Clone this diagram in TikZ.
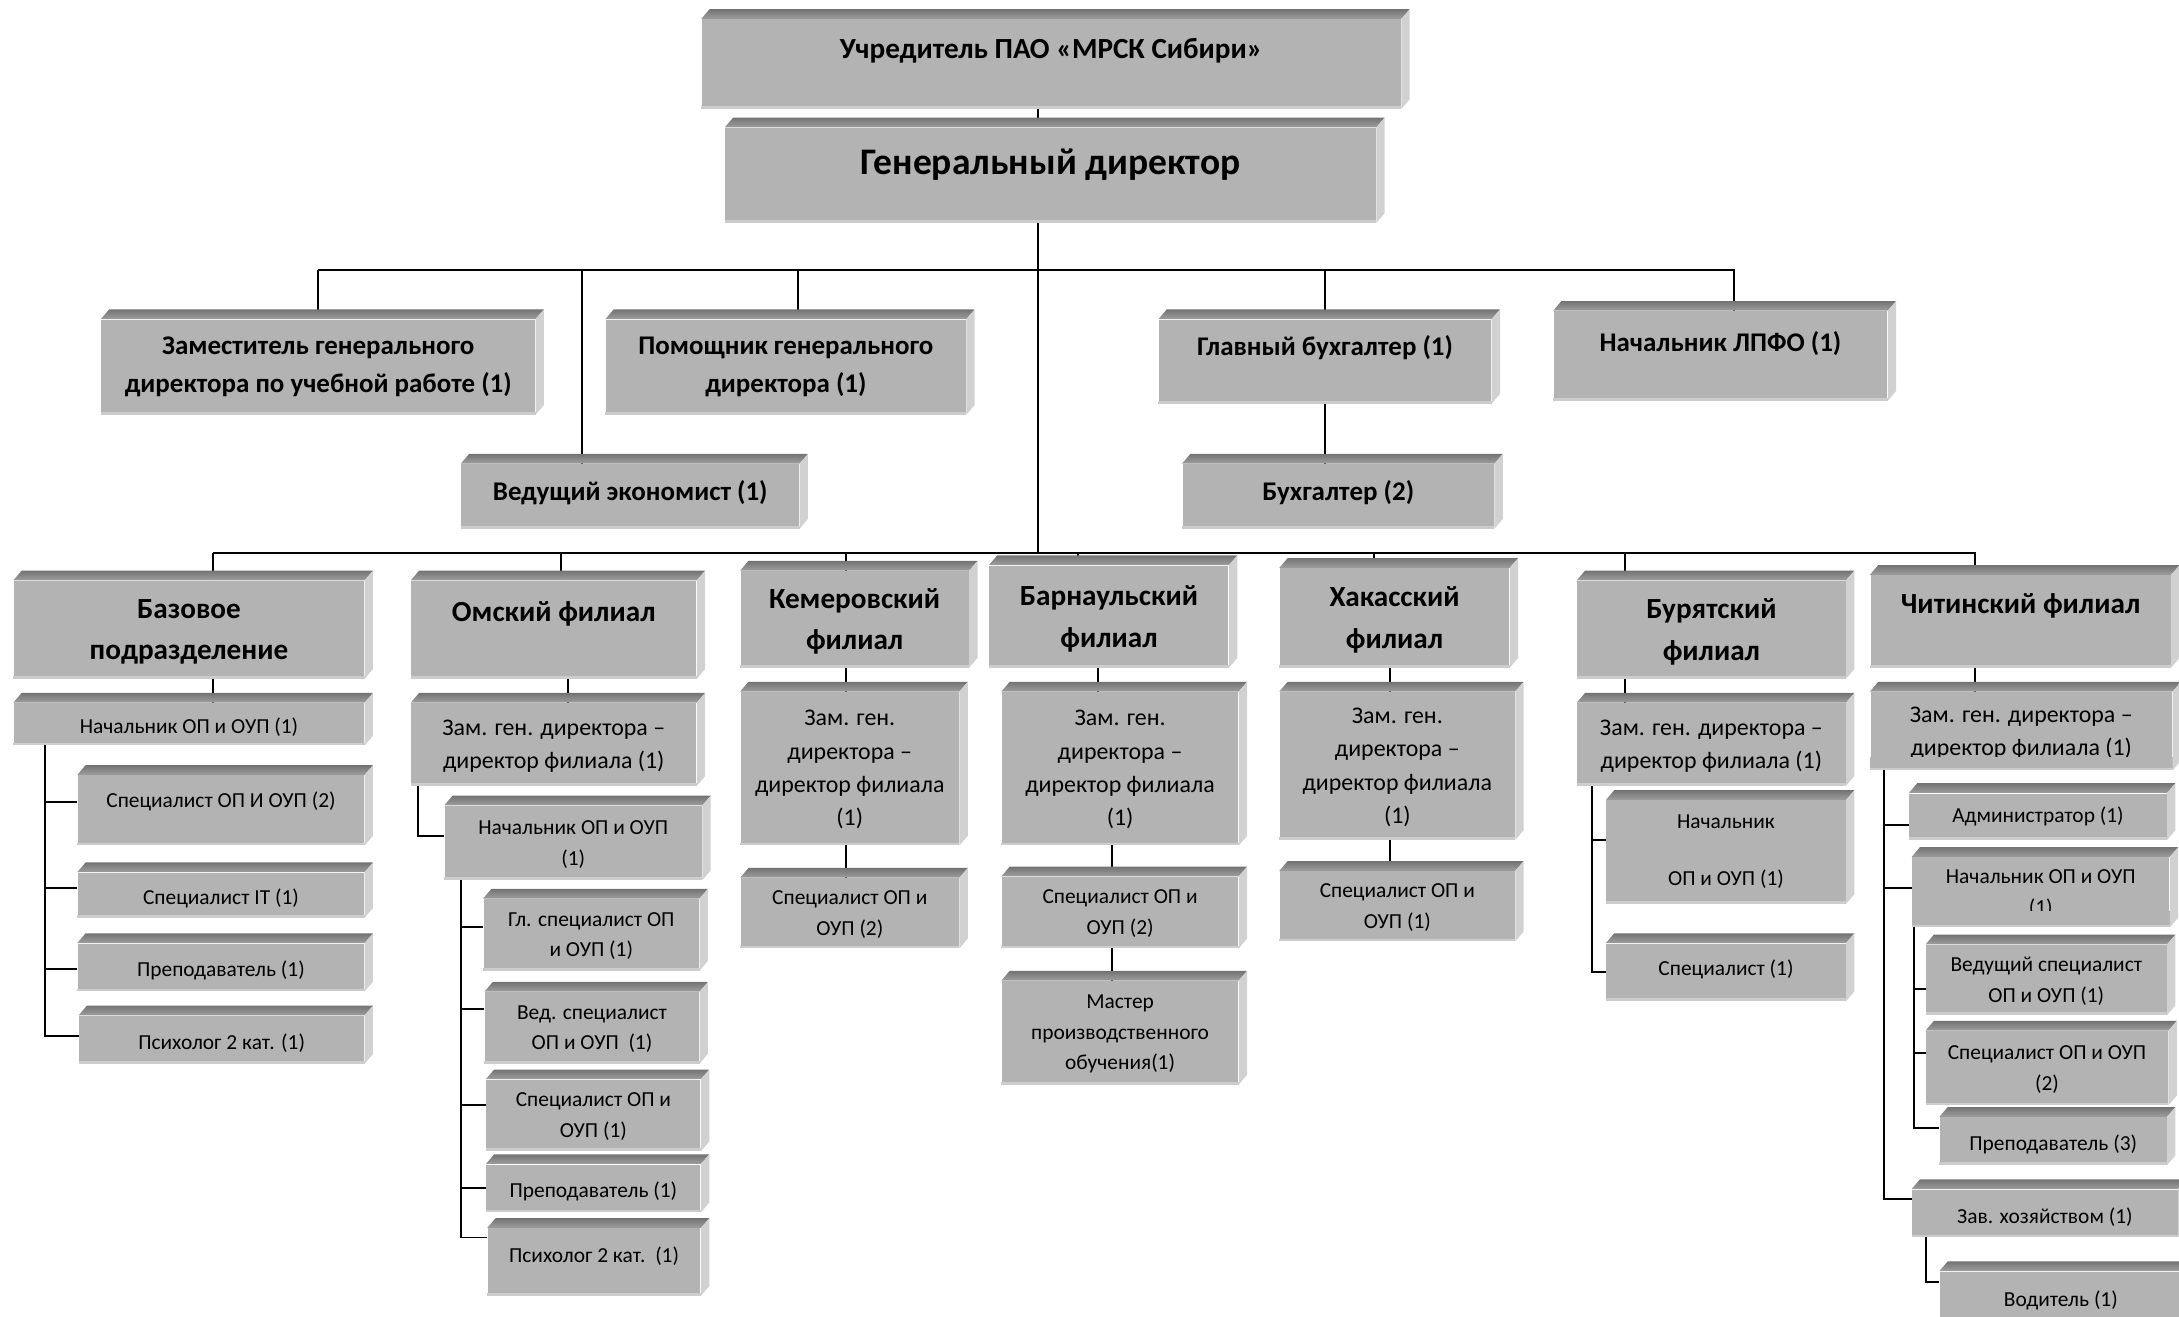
\documentclass[tikz,border=0pt]{standalone}
\usepackage{fontspec}
\setmainfont{Carlito}
\usepackage{xcolor}
\usetikzlibrary{backgrounds}

\definecolor{facegray}{HTML}{B3B3B3}

\tikzset{
  wh/.style 2 args={minimum width=#1*0.5pt,minimum height=#2*0.5pt},
  topstrut/.style={execute at begin node={\rule{0pt}{#1}}},
  basebox/.style={fill=facegray,inner sep=0pt,align=center},
  unitbox/.style={basebox,topstrut=8.2pt,font=\fontsize{7.7}{11}\selectfont},
  zambox/.style={unitbox,font=\fontsize{8.6}{12}\selectfont},
  headbox/.style={basebox,font=\bfseries\fontsize{9.7}{13.5}\selectfont},
  branchbox/.style={basebox,topstrut=11.5pt,font=\bfseries\fontsize{10.5}{15}\selectfont},
  lift/.style={text depth=#1},
  conn/.style={line width=0.7pt},
}

\begin{document}
\begin{tikzpicture}[x=0.5pt,y=-0.5pt]
\useasboundingbox (0,0) rectangle (1568,947);
\coordinate (axis) at (747,0);
\coordinate (busone) at (229,194);
\coordinate (bustwo) at (153,398);

% top level
\node[headbox,wh={503}{64},lift=11.2pt,font=\bfseries\fontsize{10.5}{13}\selectfont] (uch) at (756.5,46) {Учредитель ПАО «МРСК Сибири»};
\node[headbox,wh={468}{68},lift=10pt,font=\bfseries\fontsize{13.5}{17}\selectfont] (gen) at (756,126) {Генеральный директор};
\node[headbox,wh={312}{68}] (zam) at (229,264) {Заместитель генерального\\директора по учебной работе (1)};
\node[headbox,wh={259}{68}] (pom) at (565.5,264) {Помощник генерального\\директора (1)};
\node[headbox,wh={239}{60},lift=11.1pt] (glbuh) at (953.5,260) {Главный бухгалтер (1)};
\node[headbox,wh={240}{64},lift=10.1pt] (lpfo) at (1238,256) {Начальник ЛПФО (1)};
\node[headbox,wh={243}{46},lift=4.1pt] (ved) at (453.5,357) {Ведущий экономист (1)};
\node[headbox,wh={224}{46},lift=4.1pt] (buh) at (963,357) {Бухгалтер (2)};

% branches
\node[branchbox,wh={252}{70},lift=-1.8pt] (baza) at (136,453) {Базовое\\подразделение};
\node[branchbox,wh={205}{70},lift=17.2pt] (omsk) at (398.5,453) {Омский филиал};
\node[branchbox,wh={164}{69},lift=-2.8pt] (kem) at (615,445.5) {Кемеровский\\филиал};
\node[branchbox,wh={172}{73},lift=-1.8pt] (barn) at (798,443.5) {Барнаульский\\филиал};
\node[branchbox,wh={165}{71},lift=-1.3pt] (khak) at (1003.5,444.5) {Хакасский\\филиал};
\node[branchbox,wh={193}{70},lift=-1.3pt] (bur) at (1231.5,453) {Бурятский\\филиал};
\node[branchbox,wh={216}{66},lift=17.2pt] (chit) at (1454,447) {Читинский филиал};

% base unit
\node[unitbox,wh={252}{30}] (bnach) at (136,521) {Начальник ОП и ОУП (1)};
\node[unitbox,wh={206}{50},lift=9.8pt] (bspec) at (159,583) {Специалист ОП И ОУП (2)};
\node[unitbox,wh={206}{32}] (bit) at (159,644) {Специалист IT (1)};
\node[unitbox,wh={206}{34}] (bprep) at (159,696) {Преподаватель (1)};
\node[unitbox,wh={205}{34}] (bpsy) at (159.5,748) {Психолог 2 кат. (1)};

% omsk
\node[zambox,wh={205}{59},lift=0pt] (ozam) at (398.5,535.5) {Зам. ген. директора –\\директор филиала (1)};
\node[unitbox,wh={185}{53},lift=-2pt] (onach) at (412.5,606.5) {Начальник ОП и ОУП\\(1)};
\node[unitbox,wh={155}{51},lift=-1.5pt] (ogl) at (425.5,672.5) {Гл. специалист ОП\\и ОУП (1)};
\node[unitbox,wh={154}{51},lift=-1pt] (oved) at (426,739.5) {Вед. специалист\\ОП и ОУП~~(1)};
\node[unitbox,wh={154}{51},lift=-1pt] (ospec) at (427,802.5) {Специалист ОП и\\ОУП (1)};
\node[unitbox,wh={154}{34}] (oprep) at (427,855) {Преподаватель (1)};
\node[unitbox,wh={153}{48},lift=7.8pt] (opsy) at (427.5,908) {Психолог 2 кат.~~(1)};

% kemerovo
\node[zambox,wh={157}{110},lift=0.2pt] (kzam) at (611.5,553) {Зам. ген.\\директора –\\директор филиала\\(1)};
\node[unitbox,wh={157}{50},lift=-1pt] (kspec) at (611.5,657) {Специалист ОП и\\ОУП (2)};

% barnaul
\node[zambox,wh={170}{110},lift=0.2pt] (bzam) at (806,553) {Зам. ген.\\директора –\\директор филиала\\(1)};
\node[unitbox,wh={170}{51},lift=-1.5pt] (bspectwo) at (806,656.5) {Специалист ОП и\\ОУП (2)};
\node[unitbox,wh={170}{74},lift=-0.5pt] (bmas) at (806,743) {Мастер\\производственного\\обучения(1)};

% khakassia
\node[zambox,wh={169}{106},lift=-2.3pt] (hzam) at (1005.5,551) {Зам. ген.\\директора –\\директор филиала\\(1)};
\node[unitbox,wh={169}{50},lift=-2pt] (hspec) at (1005.5,652) {Специалист ОП и\\ОУП (1)};

% buryatia
\node[zambox,wh={193}{59},lift=0pt] (uzam) at (1231.5,535.5) {Зам. ген. директора –\\директор филиала (1)};
\node[unitbox,wh={172}{74}] (unach) at (1242,613) {Начальник\\[9.5pt]ОП и ОУП (1)};
\node[unitbox,wh={172}{41},lift=5.5pt] (uspec) at (1242,699.5) {Специалист (1)};

% chita
\node[zambox,wh={217}{56},lift=-2pt] (czam) at (1454.5,526) {Зам. ген. директора –\\директор филиала (1)};
\node[unitbox,wh={185}{33},lift=3.5pt] (cadm) at (1466.5,587.5) {Администратор (1)};
\node[unitbox,wh={185}{50},lift=-2.5pt] (cnach) at (1468.5,642) {Начальник ОП и ОУП\\(1)};
\node[unitbox,wh={173}{50},lift=-3pt] (cved) at (1472.5,705) {Ведущий специалист\\ОП и ОУП (1)};
\node[unitbox,wh={174}{53},lift=-2.5pt] (cspec) at (1473,768.5) {Специалист ОП и ОУП\\(2)};
\node[unitbox,wh={163}{34}] (cprep) at (1477.5,821) {Преподаватель (3)};
\node[unitbox,wh={191}{34}] (czav) at (1471.5,873) {Зав. хозяйством (1)};
\node[unitbox,wh={174}{45},lift=5.3pt] (cvod) at (1483,937.5) {Водитель (1)};

% text cut off at the bottom
\fill[facegray] (czam.south west) rectangle ([yshift=5pt]czam.south east);
\fill[facegray] (cnach.south west) rectangle ([yshift=6pt]cnach.south east);

% 3d edges
\foreach \n in {uch,gen,zam,pom,glbuh,lpfo,ved,buh,baza,omsk,kem,barn,khak,bur,chit,
  bnach,bspec,bit,bprep,bpsy,ozam,onach,ogl,oved,ospec,oprep,opsy,kzam,kspec,
  bzam,bspectwo,bmas,hzam,hspec,uzam,unach,uspec,czam,cadm,cnach,cved,cspec,cprep,czav,cvod}{
  \shade[top color=black!55,bottom color=black!38] (\n.north west) -- ++(6,-7)
    -- ([shift={(6,-7)}]\n.north east) -- (\n.north east) -- cycle;
  \fill[black!18] (\n.north east) -- ++(6,-7) -- ([shift={(6,-7)}]\n.south east)
    -- (\n.south east) -- cycle;
  \fill[black!20] (\n.south west) rectangle ([yshift=1pt]\n.south east);
}

\begin{scope}[on background layer]
% management
\draw[conn] (uch.south -| axis) -- (gen.north -| axis);
\draw[conn] (gen.south -| axis) -- (axis |- bustwo);
\draw[conn] ([xshift=5pt]lpfo.north) |- (busone);
\draw[conn] (zam.north) |- (busone);
\draw[conn] ([xshift=4.25pt]pom.north) |- (busone);
\draw[conn] ([xshift=-17.25pt]ved.north) |- (busone);
\draw[conn] (glbuh.north) |- (busone);
\draw[conn] (glbuh.south) -- (glbuh.south |- buh.north);
% branches
\draw[conn] ([xshift=-16.5pt]chit.north) |- (bustwo);
\draw[conn] ([xshift=8.5pt]baza.north) |- (bustwo);
\draw[conn] ([xshift=2.75pt]omsk.north) |- (bustwo);
\draw[conn] ([xshift=-3pt]kem.north) |- (bustwo);
\draw[conn] ([xshift=-11pt]barn.north) |- (bustwo);
\draw[conn] ([xshift=-7.25pt]khak.north) |- (bustwo);
\draw[conn] ([xshift=-31.25pt]bur.north) |- (bustwo);
% base unit
\draw[conn] ([xshift=8.5pt]baza.south) -- ([xshift=8.5pt]bnach.north);
\foreach \n/\s in {bspec/3pt,bit/2.5pt,bprep/-0.75pt,bpsy/1.25pt}
  \draw[conn] ([xshift=11.5pt]bnach.south west) |- ([yshift=\s]\n.west);
% omsk
\draw[conn] ([xshift=5.25pt]omsk.south) -- ([xshift=5.25pt]ozam.north);
\draw[conn] ([xshift=2.5pt]ozam.south west) |- ([yshift=2.5pt]onach.west);
\foreach \n/\s in {ogl/2.75pt,oved/6.75pt,ospec/3.75pt,oprep/0pt,opsy/8.75pt}
  \draw[conn] ([xshift=6pt]onach.south west) |- ([yshift=\s]\n.west);
% kemerovo
\draw[conn] ([xshift=-3pt]kem.south) -- ([xshift=-1.25pt]kzam.north);
\draw[conn] ([xshift=-1.25pt]kzam.south) -- ([xshift=-1.25pt]kspec.north);
% barnaul
\draw[conn] ([xshift=-4pt]barn.south) -- ([xshift=-8pt]bzam.north);
\draw[conn] ([xshift=-3pt]bzam.south) -- ([xshift=-3pt]bspectwo.north);
\draw[conn] ([xshift=-3pt]bspectwo.south) -- ([xshift=-3pt]bmas.north);
% khakassia
\draw[conn] ([xshift=-1.75pt]khak.south) -- ([xshift=-2.75pt]hzam.north);
\draw[conn] ([xshift=-2.75pt]hzam.south) -- ([xshift=-2.75pt]hspec.north);
% buryatia
\draw[conn] ([xshift=-31.25pt]bur.south) -- ([xshift=-31.25pt]uzam.north);
\draw[conn] ([xshift=5.5pt]uzam.south west) |- ([yshift=4.25pt]unach.west);
\draw[conn] ([xshift=5.5pt]uzam.south west) |- (uspec.west);
% chita
\draw[conn] ([xshift=-16.5pt]chit.south) -- ([xshift=-16.75pt]czam.north);
\foreach \n/\s in {cadm/-3.25pt,cnach/1.5pt,czav/5pt}
  \draw[conn] ([xshift=5pt]czam.south west) |- ([yshift=\s]\n.west);
\foreach \n/\s in {cved/-3.5pt,cspec/5.25pt,cprep/4.5pt}
  \draw[conn] ([xshift=1pt]cnach.south west) |- ([yshift=\s]\n.west);
\draw[conn] ([xshift=5pt]czav.south west) |- ([yshift=7.5pt]cvod.west);
\end{scope}
\end{tikzpicture}
\end{document}
